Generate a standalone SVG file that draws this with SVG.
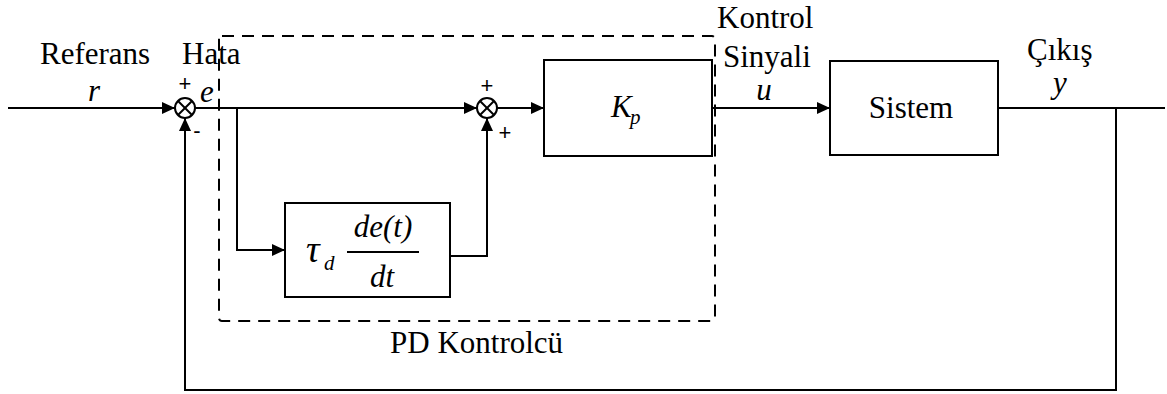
<svg xmlns="http://www.w3.org/2000/svg" width="1167" height="394" viewBox="0 0 1167 394">
<style>
.ln{fill:none;stroke:#000;stroke-width:2}
.bx{fill:#fff;stroke:#000;stroke-width:2}
text{font-family:'Liberation Serif','Times New Roman',Times,serif;font-size:31px;fill:#000}
.i{font-style:italic}
.sub{font-size:21px}
.tau{font-size:38px}
.s{font-family:'Liberation Sans',Arial,sans-serif;font-size:22px}
</style>
<defs>
<marker id="ah" markerUnits="userSpaceOnUse" markerWidth="14" markerHeight="12" refX="13" refY="6" orient="auto">
<path d="M0,0 L13,6 L0,12 Z" fill="#000"/>
</marker>
</defs>
<rect x="0" y="0" width="1167" height="394" fill="#fff"/>
<g id="pd-box">
<rect x="219" y="36" width="496" height="285" rx="3" fill="none" stroke="#000" stroke-width="2" stroke-dasharray="12 8"/>
<text x="390" y="353">PD Kontrolcü</text>
</g>
<g id="connectors">
<line class="ln" x1="8" y1="108" x2="175" y2="108" marker-end="url(#ah)"/>
<line class="ln" x1="195" y1="108" x2="477" y2="108" marker-end="url(#ah)"/>
<polyline class="ln" points="237,108 237,250 285,250" marker-end="url(#ah)"/>
<polyline class="ln" points="450,256 487,256 487,118" marker-end="url(#ah)"/>
<line class="ln" x1="497" y1="108" x2="544" y2="108" marker-end="url(#ah)"/>
<line class="ln" x1="712" y1="108" x2="830" y2="108" marker-end="url(#ah)"/>
<line class="ln" x1="998" y1="108" x2="1165" y2="108"/>
<polyline class="ln" points="1116,108 1116,390 185,390 185,118" marker-end="url(#ah)"/>
</g>
<g id="sum1">
<circle cx="185" cy="108" r="10" class="bx"/>
<line class="ln" x1="178" y1="101" x2="192" y2="115" stroke-width="1.5"/>
<line class="ln" x1="192" y1="101" x2="178" y2="115" stroke-width="1.5"/>
<text class="s" x="185" y="91" text-anchor="middle">+</text>
<text class="s" x="197" y="138" text-anchor="middle">-</text>
</g>
<g id="sum2">
<circle cx="487" cy="108" r="10" class="bx"/>
<line class="ln" x1="480" y1="101" x2="494" y2="115" stroke-width="1.5"/>
<line class="ln" x1="494" y1="101" x2="480" y2="115" stroke-width="1.5"/>
<text class="s" x="487" y="93" text-anchor="middle">+</text>
<text class="s" x="505" y="140" text-anchor="middle">+</text>
</g>
<g id="deriv">
<rect class="bx" x="285" y="203" width="165" height="94"/>
<text class="i tau" x="306" y="262">τ</text>
<text class="i sub" x="324" y="270">d</text>
<text class="i" x="383" y="237" text-anchor="middle">de(t)</text>
<line x1="347" y1="252" x2="419" y2="252" stroke="#000" stroke-width="2"/>
<text class="i" x="382" y="287" text-anchor="middle">dt</text>
</g>
<g id="kp">
<rect class="bx" x="544" y="60" width="168" height="96"/>
<text class="i" x="611" y="117">K</text>
<text class="i sub" x="630" y="124">p</text>
</g>
<g id="sistem">
<rect class="bx" x="830" y="61" width="168" height="94"/>
<text x="911" y="118" text-anchor="middle">Sistem</text>
</g>
<g id="labels">
<text x="40" y="64">Referans</text>
<text class="i" x="94" y="101" text-anchor="middle">r</text>
<text x="182" y="64">Hata</text>
<text class="i" x="207" y="102" text-anchor="middle">e</text>
<text x="717" y="28">Kontrol</text>
<text x="723" y="67">Sinyali</text>
<text class="i" x="764" y="100" text-anchor="middle">u</text>
<text x="1027" y="60">Çıkış</text>
<text class="i" x="1060" y="93" text-anchor="middle">y</text>
</g>
</svg>
